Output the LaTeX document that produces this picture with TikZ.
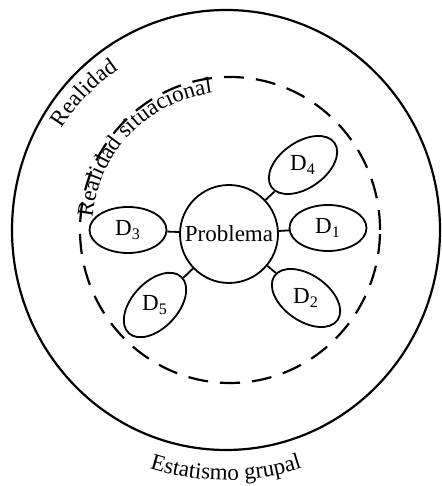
\documentclass[tikz,border=0pt]{standalone}
\usepackage{fontspec}
\setmainfont{Liberation Serif}
\usetikzlibrary{shapes.geometric,decorations.text}
\newcommand{\lblfont}{\fontsize{11.5}{14}\selectfont}
\tikzset{
  every node/.style={font=\lblfont},
  ring/.style={draw,ellipse,line width=1.1pt,inner sep=0pt},
  dashring/.style={ring,dash pattern=on 10pt off 6pt},
  probbox/.style={draw,circle,line width=0.9pt,minimum size=49pt,inner sep=0pt},
  dimbox/.style={draw,ellipse,line width=0.9pt,minimum width=38.5pt,minimum height=23pt,inner sep=0pt},
  link/.style={line width=0.9pt},
  curved/.style={decorate,decoration={text along path,text align=center}},
}
\newcommand{\dimlbl}[2]{\rotatebox{#2}{D\textsubscript{#1}}}

\begin{document}
\begin{tikzpicture}[x=0.5pt,y=0.5pt]
\useasboundingbox (0,0) rectangle (442,486);

% --- rings
\node[ring,minimum width=214pt,minimum height=220pt] (real) at (226,256) {};
\node[dashring,minimum width=150pt,minimum height=153pt] (sit) at (230,256) {};

% --- problem and its dimensions
\node[probbox] (prob) at (229,252) {Problema};
\node[dimbox] (d1) at (328,258) {\dimlbl{1}{0}};
\node[dimbox,rotate=-35] (d2) at (306,188) {\dimlbl{2}{35}};
\node[dimbox] (d3) at (128,256) {\dimlbl{3}{0}};
\node[dimbox,rotate=35] (d4) at (303,321) {\dimlbl{4}{-35}};
\node[dimbox,rotate=47] (d5) at (155,181) {\dimlbl{5}{-47}};
\foreach \d in {d1,d2,d3,d4,d5}
  \draw[link] (prob) -- (\d);

% --- curved labels
\path[curved,decoration={text={|\lblfont|Realidad}}]
  ([shift={(real)}]158:193) arc[start angle=158,end angle=114,radius=193];
\path[curved,decoration={text={|\lblfont|Realidad situacional}}]
  ([shift={(sit)}]185:138) arc[start angle=185,end angle=87,radius=138];
\path[curved,decoration={text={|\lblfont|Estatismo grupal}}]
  ([shift={(real)}]245:250) arc[start angle=245,end angle=295,radius=250];

\end{tikzpicture}
\end{document}
